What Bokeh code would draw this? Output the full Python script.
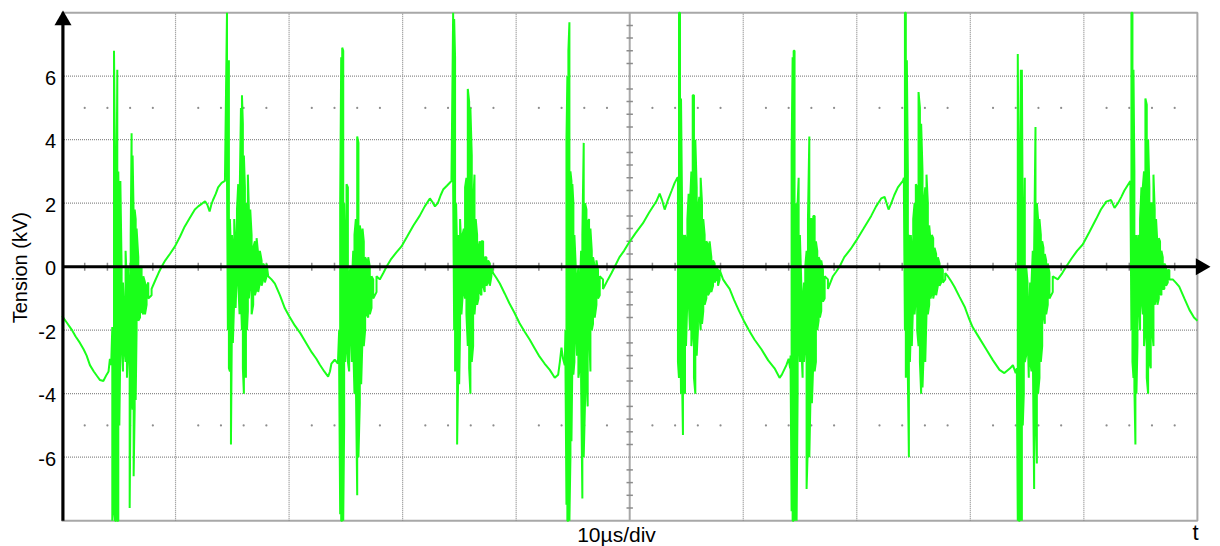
import math
from bokeh.plotting import figure
from bokeh.models import Range1d
from bokeh.embed import file_html
from bokeh.resources import INLINE
from bokeh.core.properties import value

# ---------------- data ----------------
# screen: 10 divisions of 10 µs, ±8 kV
screen_t_us = [0, 100]
screen_kv = [-8, 8]
grid_t_us = [10, 20, 30, 40, 60, 70, 80, 90]
center_t_us = [50]
grid_kv = [-6, -4, -2, 2, 4, 6]
y_ticks = [-6, -4, -2, 0, 2, 4, 6]
y_tick_labels = ["-6", "-4", "-2", "0", "2", "4", "6"]
y_label = "Tension (kV)"
x_caption = "10µs/div"
x_axis_name = "t"
minor_t_us = [2, 4, 6, 8, 12, 14, 16, 18, 22, 24, 26, 28, 32, 34, 36, 38, 42, 44, 46, 48,
              52, 54, 56, 58, 62, 64, 66, 68, 72, 74, 76, 78, 82, 84, 86, 88, 92, 94, 96, 98]
minor_kv = [-7.6, -7.2, -6.8, -6.4, -5.6, -5.2, -4.8, -4.4, -3.6, -3.2, -2.8, -2.4, -1.6, -1.2, -0.8, -0.4,
            0.4, 0.8, 1.2, 1.6, 2.4, 2.8, 3.2, 3.6, 4.4, 4.8, 5.2, 5.6, 6.4, 6.8, 7.2, 7.6]
dot_rows_kv = [5, -5]

# quiet ramps: (time µs, kV)
ramp_0 = [(0.0, -1.55), (0.4, -1.75), (0.85, -1.98), (1.2, -2.2), (1.58, -2.4), (1.9, -2.6), (2.17, -2.8),
          (2.46, -3.1), (2.8, -3.3), (3.1, -3.45), (3.35, -3.57), (3.64, -3.6), (3.93, -3.4), (4.1, -3.3),
          (4.22, -2.9), (4.33, -3.1)]
# bursts: (time µs, highest kV, lowest kV) in each sample column
burst_1 = [(4.43, -1.9, -8.0), (4.58, 6.8, -7.5), (4.67, 3.0, -8.0), (4.78, 1.0, -8.0), (4.87, 6.2, -8.0),
           (4.96, 3.0, -8.0), (5.05, 0.5, -5.0), (5.14, 2.7, -2.5), (5.25, 0.0, -2.3), (5.37, -0.5, -3.3),
           (5.49, -1.5, -2.6), (5.6, 0.5, -3.0), (5.72, -0.6, -3.5), (5.84, 0.0, -2.6), (5.96, -1.0, -7.6),
           (6.05, 1.0, -3.5), (6.13, 4.2, -4.0), (6.22, 3.5, -4.5), (6.31, 1.6, -6.6), (6.4, 1.8, -4.5),
           (6.49, 1.5, -4.2), (6.57, 1.2, -2.0), (6.72, 0.3, -1.7), (6.87, 0.0, -1.6), (7.01, 0.0, -1.4),
           (7.16, -0.3, -1.5), (7.31, -0.5, -1.5), (7.45, -0.6, -1.2), (7.6, -0.5, -1.0), (7.89, -0.7, -0.9)]
ramp_1 = [(8.19, -0.45), (8.5, -0.2), (8.77, 0.0), (9.1, 0.2), (9.5, 0.4), (9.95, 0.64), (10.4, 0.95),
          (10.8, 1.26), (11.2, 1.5), (11.7, 1.8), (12.0, 1.9), (12.3, 1.98), (12.6, 2.06), (12.8, 1.95),
          (13.0, 1.74), (13.15, 1.95), (13.3, 2.1), (13.55, 2.3), (13.75, 2.5), (14.06, 2.64), (14.35, 2.7)]
burst_2 = [(14.53, 8.0, 3.0), (14.61, 3.8, -2.0), (14.7, 6.5, -3.2), (14.79, 1.5, -3.3), (14.88, 0.5, -5.6),
           (14.97, 1.0, -1.5), (15.05, 0.5, -2.4), (15.17, 1.5, -1.0), (15.29, 0.7, -1.3), (15.41, 1.8, 0.0),
           (15.52, 2.6, -0.5), (15.64, 2.0, -1.5), (15.76, 5.0, -1.0), (15.85, 5.4, -2.0), (15.93, 4.5, -3.2),
           (16.02, 3.5, -4.0), (16.11, 2.5, -2.5), (16.2, 1.8, -3.5), (16.29, 2.0, -2.0), (16.37, 2.9, -1.4),
           (16.46, 1.8, -1.0), (16.58, 1.8, -0.5), (16.7, 1.0, -1.5), (16.84, 0.6, -1.2), (16.99, 0.8, -0.9),
           (17.14, 0.9, -0.7), (17.28, 0.4, -0.8), (17.43, 0.5, -0.5), (17.58, 0.2, -0.6), (17.72, 0.1, -0.4),
           (17.87, 0.0, -0.5), (18.02, 0.1, -0.3)]
ramp_2 = [(18.16, -0.3), (18.45, -0.4), (18.75, -0.53), (19.2, -0.9), (19.63, -1.31), (20.0, -1.55),
          (20.5, -1.85), (21.0, -2.1), (21.5, -2.4), (22.0, -2.7), (22.4, -2.9), (22.71, -3.09), (23.1, -3.3),
          (23.44, -3.46), (23.6, -3.3), (23.73, -3.05), (24.02, -2.93), (24.3, -3.05)]
burst_3 = [(24.41, -2.0, -3.2), (24.5, 2.0, -7.8), (24.59, 6.6, -8.0), (24.68, 6.9, -8.0), (24.77, 6.8, -8.0),
           (24.85, 2.0, -5.0), (24.94, 0.5, -3.0), (25.06, 2.6, -2.5), (25.18, 2.5, -3.0), (25.29, -0.3, -3.3),
           (25.41, 0.0, -2.0), (25.53, -0.5, -3.0), (25.65, 0.5, -2.5), (25.76, 1.0, -4.0), (25.88, 1.5, -3.5),
           (26.0, 4.1, -7.2), (26.11, 3.9, -6.0), (26.23, 1.3, -4.3), (26.35, 1.0, -3.7), (26.47, 1.2, -2.2),
           (26.58, 0.8, -2.5), (26.7, 0.3, -2.0), (26.82, 0.2, -1.5), (26.97, 0.3, -1.6), (27.11, 0.0, -1.5),
           (27.26, -0.3, -1.3), (27.41, -0.4, -1.0), (27.7, -0.3, -0.8)]
ramp_3 = [(27.99, -0.4), (28.3, -0.2), (28.58, 0.0), (29.0, 0.25), (29.45, 0.45), (29.9, 0.64), (30.4, 0.95),
          (30.95, 1.3), (31.5, 1.6), (31.95, 1.9), (32.4, 2.15), (32.6, 2.05), (32.85, 1.9), (33.1, 2.0),
          (33.35, 2.25), (33.57, 2.43), (33.9, 2.55), (34.3, 2.7)]
burst_4 = [(34.45, 8.0, 2.5), (34.54, 7.8, -2.0), (34.62, 6.6, -3.3), (34.71, 2.0, -1.5), (34.8, 0.5, -5.6),
           (34.89, 1.0, -3.5), (34.98, 0.8, -3.7), (35.06, 1.5, -2.0), (35.18, 0.5, -1.5), (35.27, 1.0, -1.0),
           (35.39, 1.2, -0.8), (35.5, 2.5, -1.0), (35.62, 2.8, -1.5), (35.74, 5.6, -2.5), (35.86, 5.2, -3.2),
           (35.97, 5.0, -4.0), (36.09, 3.5, -3.0), (36.21, 2.0, -2.5), (36.33, 2.9, -1.5), (36.44, 1.5, -1.0),
           (36.56, 1.0, -1.2), (36.68, 0.6, -1.0), (36.79, 0.8, -0.8), (36.94, 0.8, -0.9), (37.09, 0.8, -0.6),
           (37.23, 0.3, -0.8), (37.38, 0.3, -0.6), (37.53, 0.2, -0.5), (37.68, 0.1, -0.6), (37.82, 0.0, -0.3)]
ramp_4 = [(37.97, -0.2), (38.25, -0.35), (38.56, -0.53), (39.0, -0.85), (39.4, -1.15), (39.85, -1.45),
          (40.3, -1.78), (40.75, -2.05), (41.2, -2.3), (41.6, -2.55), (42.0, -2.8), (42.5, -3.05),
          (42.96, -3.25), (43.4, -3.5), (43.7, -3.4), (43.85, -3.0), (43.99, -2.55), (44.13, -2.9), (44.28, -3.1)]
burst_5 = [(44.34, -2.0, -3.0), (44.43, 4.0, -7.5), (44.51, 6.0, -8.0), (44.6, 6.8, -8.0), (44.69, 7.7, -8.0),
           (44.78, 3.0, -6.0), (44.87, 2.7, -5.5), (44.95, 2.6, -3.0), (45.04, 2.0, -3.4), (45.13, 1.0, -3.0),
           (45.25, 0.0, -2.0), (45.36, -0.5, -2.8), (45.48, 0.0, -3.5), (45.6, -0.8, -3.2), (45.72, 0.5, -3.6),
           (45.83, 1.0, -7.3), (45.95, 3.9, -6.0), (46.07, 2.0, -4.2), (46.19, 1.8, -3.5), (46.3, 1.4, -4.4),
           (46.42, 1.5, -2.0), (46.54, 1.2, -3.3), (46.66, 0.5, -2.0), (46.77, 0.3, -1.8), (46.92, 0.0, -1.6),
           (47.07, 0.2, -1.2), (47.21, -0.1, -1.0), (47.36, -0.3, -0.9), (47.65, -0.4, -0.7)]
ramp_5 = [(48.09, -0.4), (48.4, -0.2), (48.68, 0.0), (49.1, 0.3), (49.5, 0.5), (49.9, 0.74), (50.5, 1.05),
          (51.17, 1.37), (51.7, 1.7), (52.35, 2.06), (52.64, 2.3), (52.85, 2.1), (53.08, 1.8), (53.37, 2.1),
          (53.7, 2.4), (53.96, 2.64), (54.2, 2.8)]
burst_6 = [(54.25, 2.8, -3.0), (54.34, 8.0, -3.5), (54.43, 8.0, -1.0), (54.52, 5.3, -4.0), (54.61, 2.0, -3.5),
           (54.69, 1.0, -5.3), (54.78, 0.6, -3.0), (54.87, 1.0, -4.0), (54.96, 0.8, -2.5), (55.08, 1.5, -1.0),
           (55.19, 2.3, -1.0), (55.31, 2.0, -2.0), (55.43, 3.0, -2.5), (55.55, 5.4, -2.0), (55.66, 5.4, -3.5),
           (55.78, 4.0, -4.0), (55.9, 2.5, -2.8), (56.01, 1.8, -2.0), (56.13, 2.2, -1.5), (56.25, 2.8, -2.0),
           (56.37, 2.0, -1.8), (56.48, 1.5, -1.4), (56.6, 1.0, -1.2), (56.75, 0.8, -1.0), (56.9, 0.7, -0.9),
           (57.04, 0.8, -0.8), (57.19, 0.3, -0.8), (57.34, 0.2, -0.6), (57.48, 0.1, -0.5), (57.63, 0.0, -0.4),
           (57.78, -0.1, -0.6), (57.92, -0.1, -0.4)]
ramp_6 = [(58.22, -0.4), (58.5, -0.55), (58.8, -0.7), (59.2, -1.05), (59.64, -1.4), (60.05, -1.7),
          (60.5, -2.0), (61.0, -2.3), (61.6, -2.6), (62.2, -2.95), (62.76, -3.2), (63.2, -3.5), (63.4, -3.4),
          (63.8, -3.1), (64.0, -2.9), (64.13, -3.2)]
burst_7 = [(64.17, -2.8, -3.2), (64.26, 3.6, -7.7), (64.35, 6.6, -8.0), (64.44, 6.8, -8.0), (64.52, 6.8, -5.0),
           (64.61, 2.0, -8.0), (64.7, 1.0, -8.0), (64.79, 2.0, -4.0), (64.88, 2.8, -2.0), (64.99, 1.0, -3.0),
           (65.11, -0.5, -2.5), (65.23, -1.0, -3.5), (65.35, -0.5, -3.0), (65.46, 0.0, -2.5), (65.58, 0.5, -7.0),
           (65.7, 1.5, -5.5), (65.82, 4.1, -6.0), (65.93, 1.5, -4.0), (66.05, 1.5, -4.3), (66.17, 1.6, -3.0),
           (66.29, 1.6, -3.3), (66.4, 0.8, -3.0), (66.52, 0.5, -2.0), (66.64, 0.3, -1.7), (66.75, 0.2, -1.6),
           (66.87, 0.2, -1.4), (67.02, -0.1, -1.1), (67.17, -0.3, -1.0), (67.46, -0.4, -0.7)]
ramp_7 = [(67.9, -0.3), (68.2, -0.15), (68.48, 0.0), (68.9, 0.3), (69.45, 0.55), (69.95, 0.82), (70.6, 1.2),
          (71.27, 1.6), (71.7, 1.9), (72.15, 2.15), (72.45, 2.2), (72.8, 1.8), (73.04, 2.0), (73.3, 2.25),
          (73.62, 2.5), (74.06, 2.7)]
burst_8 = [(74.15, 2.8, 2.4), (74.24, 8.0, -2.0), (74.32, 8.0, -3.5), (74.41, 6.5, -2.5), (74.5, 3.0, -3.5),
           (74.59, 1.0, -6.0), (74.68, 0.8, -3.0), (74.76, 1.0, -2.0), (74.85, 0.5, -2.5), (74.97, 1.5, -1.0),
           (75.09, 2.0, -1.5), (75.2, 2.6, -1.0), (75.32, 2.5, -2.0), (75.44, 5.5, -2.5), (75.56, 5.0, -3.0),
           (75.67, 4.5, -4.0), (75.79, 3.0, -3.8), (75.91, 2.0, -2.5), (76.03, 2.5, -3.0), (76.14, 2.9, -1.5),
           (76.26, 2.0, -1.5), (76.38, 1.3, -1.2), (76.5, 0.8, -1.0), (76.61, 1.0, -0.8), (76.73, 0.9, -1.0),
           (76.85, 0.6, -0.8), (76.99, 0.4, -0.9), (77.14, 0.3, -0.6), (77.29, 0.1, -0.6), (77.43, 0.0, -0.5),
           (77.58, -0.1, -0.5), (77.79, -0.2, -0.4)]
ramp_8 = [(78.02, -0.3), (78.3, -0.45), (78.6, -0.63), (79.05, -0.95), (79.5, -1.26), (79.85, -1.6),
          (80.2, -1.9), (80.8, -2.25), (81.4, -2.6), (82.0, -2.95), (82.57, -3.25), (83.0, -3.35),
          (83.5, -3.2), (83.75, -3.1), (84.0, -3.35)]
burst_9 = [(84.1, -3.2, -3.5), (84.18, 6.7, -8.0), (84.27, 1.5, -8.0), (84.36, 2.0, -8.0), (84.45, 6.2, -7.5),
           (84.54, 6.2, -8.0), (84.62, 1.0, -5.0), (84.71, 0.0, -4.0), (84.8, 2.8, -3.0), (84.92, 0.0, -2.8),
           (85.04, -0.5, -2.0), (85.15, -1.5, -3.5), (85.27, -0.5, -3.0), (85.39, -0.5, -3.3), (85.5, 0.5, -2.5),
           (85.62, 0.5, -7.0), (85.74, 4.4, -4.5), (85.86, 2.0, -6.2), (85.97, 1.5, -4.0), (86.09, 1.5, -3.5),
           (86.21, 1.0, -3.0), (86.33, 0.8, -2.5), (86.44, 0.6, -1.5), (86.56, 0.4, -1.8), (86.68, 0.2, -1.5),
           (86.82, 0.1, -1.2), (86.97, -0.2, -1.0), (87.26, -0.3, -0.8)]
ramp_9 = [(87.7, -0.4), (88.1, -0.2), (88.44, 0.0), (88.9, 0.25), (89.4, 0.5), (89.9, 0.7), (90.5, 1.1),
          (91.08, 1.5), (91.5, 1.8), (91.97, 2.05), (92.4, 2.1), (92.7, 1.85), (93.0, 2.0), (93.3, 2.2),
          (93.57, 2.4), (94.01, 2.65)]
burst_10 = [(94.1, 2.7, 2.4), (94.19, 8.0, -2.0), (94.28, 8.0, -3.0), (94.37, 6.2, -3.5), (94.45, 3.0, -3.8),
            (94.54, 0.5, -5.6), (94.63, 1.0, -4.0), (94.72, 0.5, -2.5), (94.83, 1.0, -1.0), (94.95, 1.5, -2.0),
            (95.07, 2.5, -1.0), (95.19, 2.5, -1.5), (95.3, 3.0, -2.5), (95.42, 5.3, -2.0), (95.54, 5.1, -3.5),
            (95.66, 4.0, -4.0), (95.77, 2.5, -3.0), (95.89, 2.0, -3.2), (96.01, 2.0, -2.0), (96.13, 2.9, -2.5),
            (96.24, 1.8, -1.2), (96.36, 1.5, -1.0), (96.48, 0.7, -1.2), (96.6, 0.9, -1.0), (96.71, 0.8, -0.8),
            (96.83, 0.5, -0.9), (96.95, 0.3, -0.7), (97.09, 0.1, -0.7), (97.24, 0.0, -0.6), (97.39, -0.1, -0.5),
            (97.53, -0.1, -0.4)]
ramp_10 = [(97.83, -0.4), (98.1, -0.5), (98.4, -0.63), (98.85, -1.0), (99.3, -1.36), (99.7, -1.6), (100.0, -1.7)]

segments = [ramp_0, burst_1, ramp_1, burst_2, ramp_2, burst_3, ramp_3, burst_4, ramp_4, burst_5,
            ramp_5, burst_6, ramp_6, burst_7, ramp_7, burst_8, ramp_8, burst_9, ramp_9, burst_10, ramp_10]

trace_t, trace_kv = [], []
for seg in segments:
    for i, row in enumerate(seg):
        if len(row) == 2:
            trace_t.append(row[0])
            trace_kv.append(row[1])
        else:
            t, hi, lo = row
            a, b = (hi, lo) if i % 2 == 0 else (lo, hi)
            trace_t += [t, t]
            trace_kv += [a, b]

# ---------------- layout (the frame fills the whole canvas) ----------------
W, H = 1220, 546
PX_PER_US = 11.354
PX_PER_KV = 31.75
T0_PX = 61.5          # canvas x of t = 0
ZERO_PX = 266.2       # canvas y of 0 kV
x0 = -T0_PX / PX_PER_US
x1 = (W - T0_PX) / PX_PER_US
y1 = ZERO_PX / PX_PER_KV
y0 = (ZERO_PX - H) / PX_PER_KV


def us(px):   # canvas x offset (px) -> µs
    return px / PX_PER_US


def kv(px):   # canvas y offset (px, downwards) -> kV
    return -px / PX_PER_KV


FONT = value("Liberation Sans")
GRID = "#8c8c8c"
GREEN = "#1aff1a"

p = figure(width=W, height=H, x_range=Range1d(x0, x1), y_range=Range1d(y0, y1),
           x_axis_location=None, y_axis_location=None,
           toolbar_location=None, output_backend="svg",
           min_border=0, min_border_left=0, min_border_right=0, min_border_top=0, min_border_bottom=0,
           outline_line_color=None, background_fill_color="white", border_fill_color="white")
p.grid.visible = False

# graticule
p.quad(left=[screen_t_us[0]], right=[screen_t_us[1]], bottom=[screen_kv[0]], top=[screen_kv[1]],
       fill_color=None, line_color="#a8a8a8", line_width=2)
p.segment(x0=[screen_t_us[0]] * len(grid_kv), x1=[screen_t_us[1]] * len(grid_kv), y0=grid_kv, y1=grid_kv,
          line_color=GRID, line_width=1.2, line_dash="1 1")
p.segment(x0=grid_t_us, x1=grid_t_us, y0=[screen_kv[0]] * len(grid_t_us), y1=[screen_kv[1]] * len(grid_t_us),
          line_color=GRID, line_width=1.2, line_dash="1 1")
p.segment(x0=center_t_us, x1=center_t_us, y0=[screen_kv[0]], y1=[screen_kv[1]],
          line_color="#a8a8a8", line_width=2)
p.segment(x0=[center_t_us[0] - us(3.2)] * len(minor_kv), x1=[center_t_us[0] + us(3.2)] * len(minor_kv),
          y0=minor_kv, y1=minor_kv, line_color=GRID, line_width=1.5)
p.segment(x0=minor_t_us, x1=minor_t_us, y0=[kv(4)] * len(minor_t_us), y1=[kv(-4)] * len(minor_t_us),
          line_color=GRID, line_width=1.5)
dots_t = [t for _ in dot_rows_kv for t in minor_t_us]
dots_v = [v for v in dot_rows_kv for _ in minor_t_us]
p.scatter(x=dots_t, y=dots_v, size=2.2, fill_color=GRID, line_color=None)

# measured trace
p.line(trace_t, trace_kv, line_color=GREEN, line_width=2.0)

# axes with arrows
p.segment(x0=[us(1)], x1=[us(1)], y0=[screen_kv[0]], y1=[y1 + kv(24)], line_color="black", line_width=3)
p.segment(x0=[0], x1=[screen_t_us[1]], y0=[0], y1=[0], line_color="black", line_width=3)
p.scatter(x=[us(1)], y=[y1 + kv(19.8)], marker="triangle", size=17, fill_color="black", line_color=None)
p.scatter(x=[us(1210 - 9.8 - T0_PX)], y=[0], marker="triangle", angle=-math.pi / 2, size=17,
          fill_color="black", line_color=None)

# y tick labels and axis title
p.text(x=[us(-6)] * len(y_ticks), y=[v + kv(1.5) for v in y_ticks], text=y_tick_labels,
       text_align="right", text_baseline="middle", text_font=FONT, text_font_size="20px", text_color="black")
p.text(x=[us(19 - T0_PX)], y=[kv(1)], text=[y_label], angle=math.pi / 2,
       text_align="center", text_baseline="middle", text_font=FONT, text_font_size="20px", text_color="black")

# captions under the screen
p.text(x=[us(616 - T0_PX)], y=[kv(534 - ZERO_PX)], text=[x_caption], text_align="center",
       text_baseline="middle", text_font=FONT, text_font_size="21px", text_color="black")
p.text(x=[us(1195 - T0_PX)], y=[kv(532 - ZERO_PX)], text=[x_axis_name], text_align="center",
       text_baseline="middle", text_font=FONT, text_font_size="22px", text_color="black")

open("out.html", "w").write(file_html(p, INLINE))
